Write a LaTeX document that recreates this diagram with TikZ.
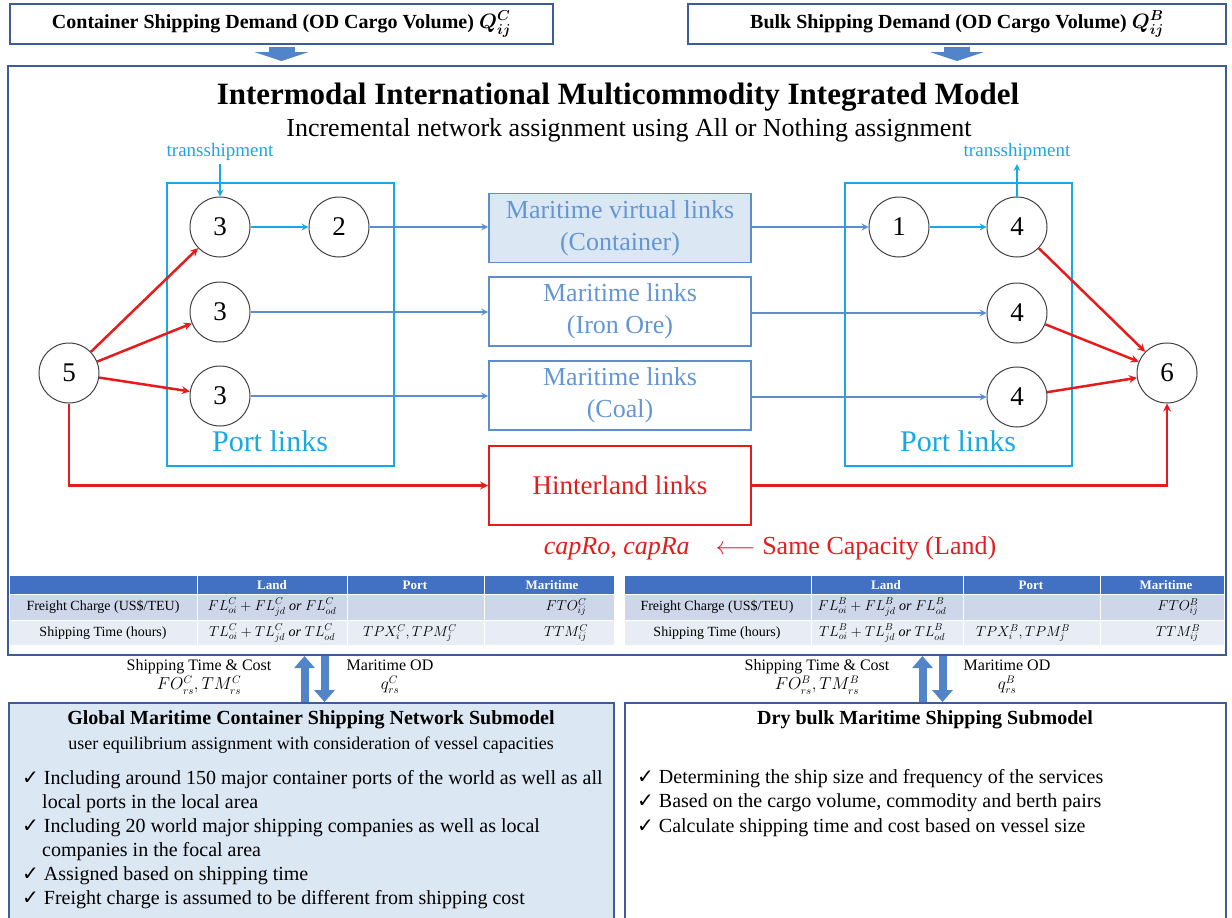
\documentclass[tikz,border=0pt]{standalone}
\usepackage{amsmath,amssymb}
\usepackage{fontspec}
\setmainfont{Liberation Serif}
\newfontfamily\symfont{DejaVu Sans}
\usetikzlibrary{arrows.meta}
\newcommand{\fs}[2]{\fontsize{#1}{#2}\selectfont}
\newcommand{\chk}{{\symfont\char"2713}}
\definecolor{frcol}{RGB}{62,92,152}
\definecolor{ccol}{RGB}{24,168,228}
\definecolor{bcol}{RGB}{92,142,206}
\definecolor{btxt}{RGB}{100,150,212}
\definecolor{rcol}{RGB}{230,28,28}
\definecolor{hcol}{RGB}{66,112,194}
\definecolor{r1col}{RGB}{206,214,234}
\definecolor{r2col}{RGB}{232,236,245}
\definecolor{lbcol}{RGB}{220,231,244}
\definecolor{acol}{RGB}{82,132,202}
\tikzset{every picture/.style={x=1pt,y=-1pt}}
\tikzset{vertex/.style={circle,draw=black!75,line width=1pt,minimum size=60pt,inner sep=0pt,font=\fs{27}{28}}}
\tikzset{demand/.style={draw=frcol,line width=1.5pt,fill=white,minimum height=40pt,font=\bfseries\fs{20}{22}}}
\tikzset{portbox/.style={draw=ccol,line width=2pt,minimum width=227pt,minimum height=283pt}}
\tikzset{linkbox/.style={draw=bcol,line width=1.8pt,minimum width=262pt,minimum height=69pt,align=center,text=btxt,font=\fs{26}{32}}}
\tikzset{edge/.style={-stealth}}
\tikzset{bluelink/.style={bcol,line width=2pt,edge}}
\tikzset{cyanlink/.style={ccol,line width=2pt,edge}}
\tikzset{redlink/.style={rcol,line width=2.5pt,edge}}
\tikzset{toparrow/.style={acol,line width=26pt,-{Triangle[length=9pt,width=54pt]},shorten <=2pt,shorten >=4pt}}
\tikzset{blockarrow/.style={acol,line width=8pt,-{Triangle[length=12pt,width=20pt]}}}
\tikzset{thead/.style={text=white,font=\bfseries\fs{13}{15}}}
\tikzset{tcell/.style={font=\fs{14}{15}}}
\tikzset{flow/.style={align=center,font=\fs{16}{19}}}
\tikzset{bullet/.style={anchor=base west,font=\fs{20}{24},inner sep=0pt}}

\begin{document}
\begin{tikzpicture}
\useasboundingbox (0,0) rectangle (1232,918);

% demand boxes
\node [demand,minimum width=543pt] (qc) at (281.5,24) {Container Shipping Demand (OD Cargo Volume) $\boldsymbol{Q^{C}_{ij}}$};
\node [demand,minimum width=538pt] (qb) at (957,24) {Bulk Shipping Demand (OD Cargo Volume) $\boldsymbol{Q^{B}_{ij}}$};

\node [draw=frcol,line width=2pt,minimum width=1218pt,minimum height=589pt] (main) at (617,360.5) {};

\draw [toparrow] (qc) -- (qc |- main.north);
\draw [toparrow] (qb) -- (qb |- main.north);

\node [font=\bfseries\fs{31}{34}] (title) at (618,97) {Intermodal International Multicommodity Integrated Model};
\node [font=\fs{26}{28}] (subtitle) at (629,130) {Incremental network assignment using All or Nothing assignment};

% port links
\node [portbox] (portl) at (280.5,324.5) {};
\node [portbox] (portr) at (958.5,324.5) {};
\node [ccol,font=\fs{30}{32}] (portltxt) at (270,441) {Port links};
\node [ccol,font=\fs{30}{32}] (portrtxt) at (958,441) {Port links};
\node [ccol,font=\fs{19}{20}] (transl) at (220,152) {transshipment};
\node [ccol,font=\fs{19}{20}] (transr) at (1017,152) {transshipment};

% links
\node [linkbox,fill=lbcol] (mv) at (620,228) {Maritime virtual links\\(Container)};
\node [linkbox] (mi) at (620,311.5) {Maritime links\\(Iron Ore)};
\node [linkbox] (mc) at (620,395.5) {Maritime links\\(Coal)};
\node [linkbox,draw=rcol,text=rcol,minimum height=79pt,font=\fs{27}{30}] (hint) at (620,485.5) {Hinterland links};

\node [vertex] (n5) at (69,373) {5};
\node [vertex] (l3a) at (220,227) {3};
\node [vertex] (l2) at (339,227) {2};
\node [vertex] (l3b) at (220,312) {3};
\node [vertex] (l3c) at (220,396) {3};
\node [vertex] (r1) at (899,227) {1};
\node [vertex] (r4a) at (1017,227) {4};
\node [vertex] (r4b) at (1017,313) {4};
\node [vertex] (r4c) at (1017,397) {4};
\node [vertex] (n6) at (1167,373) {6};

\draw [cyanlink] (transl) -- (l3a);
\draw [cyanlink] (r4a) -- (transr);
\draw [cyanlink] (l3a) -- (l2);
\draw [cyanlink] (r1) -- (r4a);

\draw [bluelink] (l2) -- (l2 -| mv.west);
\draw [bluelink] (mv.east |- r1) -- (r1);
\draw [bluelink] (l3b) -- (l3b -| mi.west);
\draw [bluelink] (mi.east |- r4b) -- (r4b);
\draw [bluelink] (l3c) -- (l3c -| mc.west);
\draw [bluelink] (mc.east |- r4c) -- (r4c);

\draw [redlink] (n5) -- (l3a);
\draw [redlink] (n5) -- (l3b);
\draw [redlink] (n5) -- (l3c);
\draw [redlink] (r4a) -- (n6);
\draw [redlink] (r4b) -- (n6);
\draw [redlink] (r4c) -- (n6);
\draw [redlink] (n5) |- (hint);
\draw [redlink] (hint) -| (n6);

\node [rcol,font=\fs{26}{28}] (cap) at (770,548) {\textit{capRo, capRa}\quad$\longleftarrow$ Same Capacity (Land)};

% container table
\fill [hcol] (10,576) rectangle (614,594);
\fill [r1col] (10,594) rectangle (614,620);
\fill [r2col] (10,620) rectangle (614,645);
\draw [white,line width=1pt] (197,576) -- (197,645) (347,576) -- (347,645) (484,576) -- (484,645) (10,594) -- (614,594) (10,620) -- (614,620);
\node [thead] (cland) at (272,585) {Land};
\node [thead] (cport) at (415,585) {Port};
\node [thead] (cmar) at (552,585) {Maritime};
\node [tcell] (cfc) at (103,607) {Freight Charge (US\$/TEU)};
\node [tcell] (cst) at (103,633) {Shipping Time (hours)};
\node [tcell] (cfl) at (272,607) {$FL^{C}_{oi}+FL^{C}_{jd}\ \mathit{or}\ FL^{C}_{od}$};
\node [tcell] (ctl) at (272,633) {$TL^{C}_{oi}+TL^{C}_{jd}\ \mathit{or}\ TL^{C}_{od}$};
\node [tcell] (ctp) at (410,633) {$TPX^{C}_{i},TPM^{C}_{j}$};
\node [tcell] (cfo) at (566,607) {$FTO^{C}_{ij}$};
\node [tcell] (ctt) at (566,633) {$TTM^{C}_{ij}$};

% bulk table
\fill [hcol] (625,576) rectangle (1224,594);
\fill [r1col] (625,594) rectangle (1224,620);
\fill [r2col] (625,620) rectangle (1224,645);
\draw [white,line width=1pt] (811,576) -- (811,645) (963,576) -- (963,645) (1100,576) -- (1100,645) (625,594) -- (1224,594) (625,620) -- (1224,620);
\node [thead] (bland) at (886,585) {Land};
\node [thead] (bport) at (1031,585) {Port};
\node [thead] (bmar) at (1166,585) {Maritime};
\node [tcell] (bfc) at (717,607) {Freight Charge (US\$/TEU)};
\node [tcell] (bst) at (717,633) {Shipping Time (hours)};
\node [tcell] (bfl) at (882,607) {$FL^{B}_{oi}+FL^{B}_{jd}\ \mathit{or}\ FL^{B}_{od}$};
\node [tcell] (btl) at (882,633) {$TL^{B}_{oi}+TL^{B}_{jd}\ \mathit{or}\ TL^{B}_{od}$};
\node [tcell] (btp) at (1023,633) {$TPX^{B}_{i},TPM^{B}_{j}$};
\node [tcell] (bfo) at (1178,607) {$FTO^{B}_{ij}$};
\node [tcell] (btt) at (1178,633) {$TTM^{B}_{ij}$};

% submodels
\node [draw=frcol,line width=1.8pt,fill=lbcol,minimum width=605pt,minimum height=222pt] (glob) at (311.5,814) {};
\node [draw=frcol,line width=1.8pt,fill=white,minimum width=601pt,minimum height=222pt] (dry) at (925.5,814) {};

\draw [blockarrow] ([xshift=-7pt]glob.north) -- ([xshift=-7pt]glob.north |- main.south);
\draw [blockarrow] ([xshift=13pt]glob.north |- main.south) -- ([xshift=13pt]glob.north);
\draw [blockarrow] ([xshift=-3pt]dry.north) -- ([xshift=-3pt]dry.north |- main.south);
\draw [blockarrow] ([xshift=17pt]dry.north |- main.south) -- ([xshift=17pt]dry.north);

\node [flow] (ctc) at (199,677) {Shipping Time \& Cost\\$FO^{C}_{rs},TM^{C}_{rs}$};
\node [flow] (cod) at (390,677) {Maritime OD\\$q^{C}_{rs}$};
\node [flow] (btc) at (817,677) {Shipping Time \& Cost\\$FO^{B}_{rs},TM^{B}_{rs}$};
\node [flow] (bod) at (1007,677) {Maritime OD\\$q^{B}_{rs}$};

\node [font=\bfseries\fs{20}{22}] (globt) at (311,720) {Global Maritime Container Shipping Network Submodel};
\node [font=\fs{18}{20}] (globs) at (311,745) {user equilibrium assignment with consideration of vessel capacities};
\node [bullet] (g1) at (22,784) {\chk\ Including around 150 major container ports of the world as well as all};
\node [bullet] (g2) at (42,808) {local ports in the local area};
\node [bullet] (g3) at (22,832) {\chk\ Including 20 world major shipping companies as well as local};
\node [bullet] (g4) at (42,856) {companies in the focal area};
\node [bullet] (g5) at (22,880) {\chk\ Assigned based on shipping time};
\node [bullet] (g6) at (22,904) {\chk\ Freight charge is assumed to be different from shipping cost};

\node [font=\bfseries\fs{20}{22}] (dryt) at (925,720) {Dry bulk Maritime Shipping Submodel};
\node [bullet] (d1) at (637,783) {\chk\ Determining the ship size and frequency of the services};
\node [bullet] (d2) at (637,807) {\chk\ Based on the cargo volume, commodity and berth pairs};
\node [bullet] (d3) at (637,832) {\chk\ Calculate shipping time and cost based on vessel size};
\end{tikzpicture}
\end{document}
